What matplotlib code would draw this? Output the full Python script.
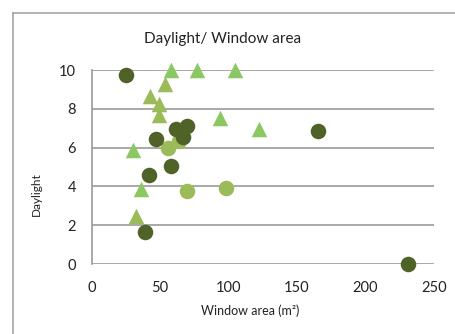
#!/usr/bin/env python3
"""Daylight vs window area scatter."""

import matplotlib.pyplot as plt
from matplotlib.lines import Line2D

# dark circles
dark_x = [25, 47, 62, 70, 67, 58, 42, 39, 165, 231]
dark_y = [9.75, 6.45, 6.98, 7.12, 6.55, 5.05, 4.58, 1.65, 6.83, 0.0]

# light circles
light_x = [56, 64, 70, 98]
light_y = [6.0, 6.35, 3.78, 3.92]

# bright triangles
tri_a_x = [58, 77, 105, 94, 122, 30, 36]
tri_a_y = [10.0, 10.0, 10.0, 7.5, 6.95, 5.86, 3.88]

# olive triangles
tri_b_x = [53.5, 42.5, 49.3, 49.3, 32.3]
tri_b_y = [9.3, 8.65, 8.24, 7.67, 2.5]

x_ticks = [0, 50, 100, 150, 200, 250]
y_ticks = [0, 2, 4, 6, 8, 10]

plt.rcParams["font.family"] = ["Lato", "DejaVu Sans"]

W, H = 456, 334
fig = plt.figure(figsize=(W / 100, H / 100), dpi=100)

# outer chart frame (runs off the right and bottom of the image)
frame_col = "#a6a6a6"
fig.add_artist(Line2D([13.5 / W, 1.0], [1 - 12.5 / H] * 2, color=frame_col, lw=1.2))
fig.add_artist(Line2D([13.5 / W] * 2, [0.0, 1 - 12.5 / H], color=frame_col, lw=1.2))

ax = fig.add_axes([91.5 / W, 1 - 264 / H, (434 - 91.5) / W, (264 - 70) / H])
ax.set_xlim(0, 250)
ax.set_ylim(0, 10)
ax.set_xticks(x_ticks)
ax.set_yticks(y_ticks)
ax.tick_params(length=0, labelsize=10.5, colors="#222222")
ax.tick_params(axis="y", pad=11)
ax.tick_params(axis="x", pad=12)
for side in ("top", "right", "bottom"):
    ax.spines[side].set_visible(False)
ax.spines["left"].set_color("#9a9a9a")
ax.spines["left"].set_linewidth(1.2)
ax.yaxis.grid(True, color="#9a9a9a", lw=1.2)
ax.set_axisbelow(True)

ms = 125
ax.scatter(light_x, light_y, s=ms, color="#9bbb59", marker="o", lw=0, clip_on=False, zorder=3)
ax.scatter(tri_b_x, tri_b_y, s=ms, color="#9bbb59", marker="^", lw=0, clip_on=False, zorder=3)
ax.scatter(tri_a_x, tri_a_y, s=ms, color="#8cc862", marker="^", lw=0, clip_on=False, zorder=3)
ax.scatter(dark_x, dark_y, s=ms, color="#4f6228", marker="o", lw=0, clip_on=False, zorder=4)

fig.text(223 / W, 1 - 38.5 / H, "Daylight/ Window area", ha="center", va="center",
         fontsize=11, color="#222222")
fig.text(250 / W, 1 - 311 / H, "Window area (m²)", ha="center", va="center",
         fontsize=9, color="#222222")
fig.text(36 / W, 1 - 194 / H, "Daylight", ha="center", va="center", rotation=90,
         fontsize=8.5, color="#222222")

fig.savefig("out.png", dpi=100)
